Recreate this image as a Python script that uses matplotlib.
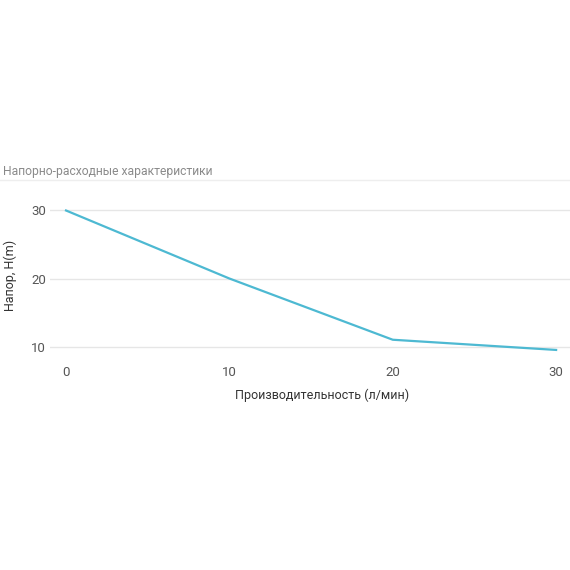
import matplotlib
matplotlib.use("Agg")
import matplotlib.pyplot as plt
from matplotlib.lines import Line2D

# Данные: напорно-расходная характеристика насоса
flow = [0, 10, 20, 30]          # л/мин
head = [30, 20, 11, 9.5]        # м
x_ticks = [0, 10, 20, 30]
y_ticks = [10, 20, 30]

plt.rcParams["font.family"] = ["Roboto", "DejaVu Sans"]

W, H = 570, 570
fig = plt.figure(figsize=(W / 100, H / 100), dpi=100)

# оси в пикселях: x от 50 до 570, y от 203 до 353
ax = fig.add_axes([50 / W, 1 - 353 / H, 520 / W, 150 / H])
ax.plot(flow, head, color="#4db9d2", linewidth=1.6)

ax.set_xlim(-0.98, 30.85)
ax.set_ylim(9.05, 31.1)
ax.set_xticks(x_ticks)
ax.set_yticks(y_ticks)
ax.grid(axis="y", color="#e6e6e6", linewidth=1)
ax.set_axisbelow(True)
for s in ax.spines.values():
    s.set_visible(False)
ax.tick_params(length=0, labelsize=9.5, colors="#555555")
ax.tick_params(axis="x", pad=9)
ax.tick_params(axis="y", pad=3)

# подписи осей
fig.text(322 / W, 1 - 395 / H, "Производительность (л/мин)", ha="center",
         va="center", fontsize=9, color="#333333")
fig.text(10 / W, 1 - 275 / H, "Напор, H(m)", ha="center", va="center",
         rotation=90, fontsize=9, color="#333333")

# заголовок и разделитель
fig.text(3 / W, 1 - 171 / H, "Напорно-расходные характеристики", ha="left",
         va="center", fontsize=8.7, color="#8a8a8a")
fig.add_artist(Line2D([0, 1], [1 - 180 / H] * 2, color="#eeeeee",
                      linewidth=1, transform=fig.transFigure))

fig.savefig("out.png", dpi=100)
